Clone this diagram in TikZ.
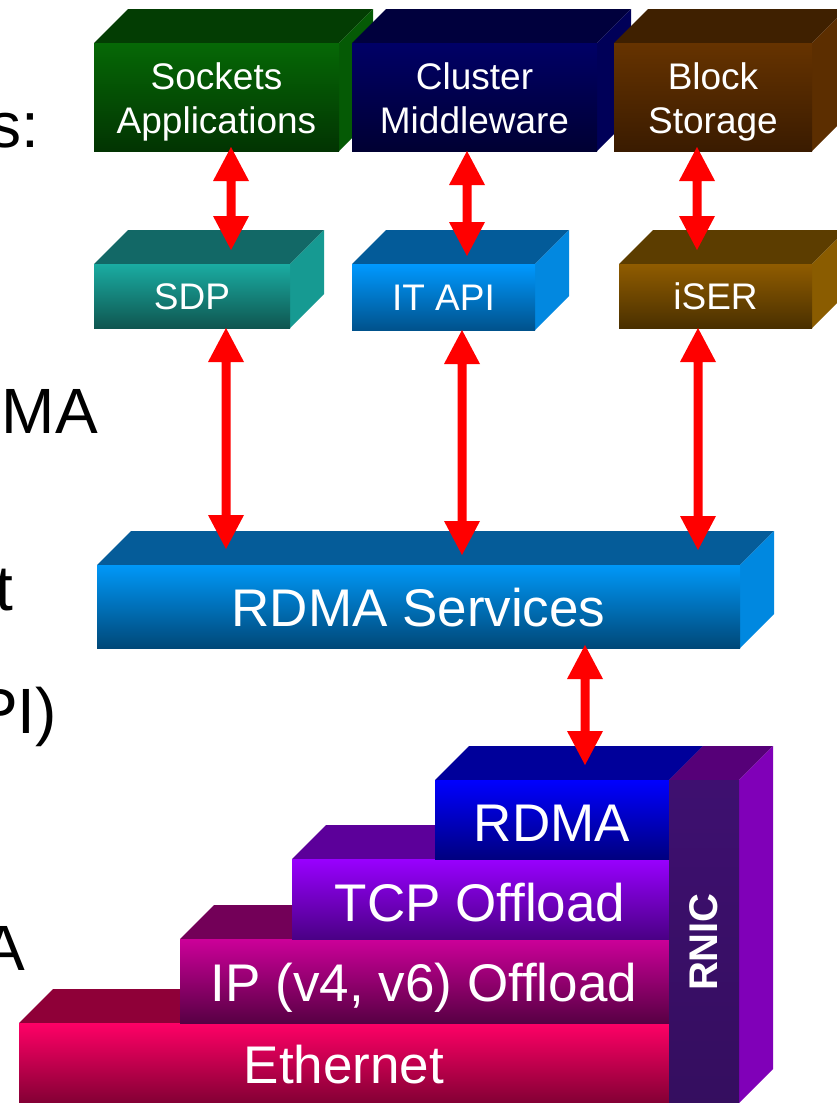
\documentclass[tikz,border=0pt]{standalone}
\usepackage{fontspec}
\setmainfont{Liberation Sans}
\usetikzlibrary{calc,fit}

% front face (top / bottom of gradient), top face, side face
\definecolor{sockA}{HTML}{066806}\definecolor{sockB}{HTML}{023402}
\definecolor{sockT}{HTML}{033D03}\definecolor{sockS}{HTML}{055A05}
\definecolor{clusA}{HTML}{000066}\definecolor{clusB}{HTML}{000033}
\definecolor{clusT}{HTML}{00003D}\definecolor{clusS}{HTML}{000058}
\definecolor{blkA}{HTML}{663300}\definecolor{blkB}{HTML}{3A1B00}
\definecolor{blkT}{HTML}{3F2000}\definecolor{blkS}{HTML}{5C2E00}
\definecolor{sdpA}{HTML}{1AACA2}\definecolor{sdpB}{HTML}{0F5650}
\definecolor{sdpT}{HTML}{126866}\definecolor{sdpS}{HTML}{169A92}
\definecolor{itA}{HTML}{0099FF}\definecolor{itB}{HTML}{00528C}
\definecolor{itT}{HTML}{035B99}\definecolor{itS}{HTML}{0288E0}
\definecolor{iserA}{HTML}{905C00}\definecolor{iserB}{HTML}{4A3000}
\definecolor{iserT}{HTML}{5C3D00}\definecolor{iserS}{HTML}{8A5C00}
\definecolor{rsA}{HTML}{0098F8}\definecolor{rsB}{HTML}{004878}
\definecolor{rsT}{HTML}{055C99}\definecolor{rsS}{HTML}{0088E0}
\definecolor{ethA}{HTML}{FF0066}\definecolor{ethB}{HTML}{780030}
\definecolor{ethT}{HTML}{8F0038}
\definecolor{ipA}{HTML}{CC0099}\definecolor{ipB}{HTML}{580044}
\definecolor{ipT}{HTML}{730058}
\definecolor{tcpA}{HTML}{9900FF}\definecolor{tcpB}{HTML}{4A0085}
\definecolor{tcpT}{HTML}{5C009A}
\definecolor{rdA}{HTML}{0000FF}\definecolor{rdB}{HTML}{000080}
\definecolor{rdT}{HTML}{00009A}
\definecolor{nicF}{HTML}{3E1070}\definecolor{nicT}{HTML}{560078}
\definecolor{nicS}{HTML}{8000B8}
\definecolor{arrowred}{HTML}{FF0000}

\tikzset{
  face/.style={inner sep=0pt, outer sep=0pt, draw=none},
  boxlabel/.style={text=white, anchor=base, inner sep=0pt,
    font=\fontsize{37}{44}\selectfont},
  biglabel/.style={text=white, anchor=base, inner sep=0pt,
    font=\fontsize{53}{60}\selectfont},
  cuttext/.style={text=black, anchor=base east, inner sep=0pt,
    font=\fontsize{64}{72}\selectfont},
}

% 3-D slab: name, x1, y1, x2, y2 of the front face, gradient colours,
% top face colour, side face colour
\newcommand\slab[9]{%
  \fill[#8] (#2,#3) -- (#2+34,#3-34) -- (#4+34,#3-34) -- (#4,#3) -- cycle;
  \fill[#9] (#4,#3) -- (#4+34,#3-34) -- (#4+34,#5-34) -- (#4,#5) -- cycle;
  \node[face, fit={(#2,#3) (#4,#5)}, top color=#6, bottom color=#7] (#1) {};
}

% thick two-headed vertical arrow between two points
\newcommand\bidir[2]{%
  \fill[arrowred] let \p1=#1, \p2=#2 in
    (\x1,\y1) -- (\x1+18pt,\y1-34pt) -- (\x1+4.5pt,\y1-34pt)
    -- (\x1+4.5pt,\y2+34pt) -- (\x1+18pt,\y2+34pt) -- (\x1,\y2)
    -- (\x1-18pt,\y2+34pt) -- (\x1-4.5pt,\y2+34pt)
    -- (\x1-4.5pt,\y1-34pt) -- (\x1-18pt,\y1-34pt) -- cycle;
}

\begin{document}
\begin{tikzpicture}[x=1pt,y=-1pt]
\useasboundingbox[fill=white] (0,0) rectangle (837,1103);

% text running in from the left edge
\node[cuttext] (c1) at (39,147) {s:};
\node[cuttext] (c2) at (98,433) {MA};
\node[cuttext] (c3) at (13,610) {t};
\node[cuttext] (c4) at (57,733) {PI)};
\node[cuttext] (c5) at (25,970) {A};

% upper layer
\slab{sock}{94}{43}{339}{151}{sockA}{sockB}{sockT}{sockS}
\slab{clus}{352}{43}{597}{151}{clusA}{clusB}{clusT}{clusS}
\slab{blk}{614}{43}{812}{151}{blkA}{blkB}{blkT}{blkS}
\node[boxlabel] (l1) at (216.5,89) {Sockets};
\node[boxlabel] (l2) at (216.5,133) {Applications};
\node[boxlabel] (l3) at (474.5,89) {Cluster};
\node[boxlabel] (l4) at (474.5,133) {Middleware};
\node[boxlabel] (l5) at (713,89) {Block};
\node[boxlabel] (l6) at (713,133) {Storage};

% protocol layer
\slab{sdp}{94}{264}{290}{328}{sdpA}{sdpB}{sdpT}{sdpS}
\slab{itapi}{352}{264}{535}{330}{itA}{itB}{itT}{itS}
\slab{iser}{619}{264}{812}{328}{iserA}{iserB}{iserT}{iserS}
\node[boxlabel] (l7) at (192,309) {SDP};
\node[boxlabel] (l8) at (443.5,310) {IT API};
\node[boxlabel] (l9) at (715.5,309) {iSER};

% RDMA services
\slab{rdmas}{97}{565}{740}{648}{rsA}{rsB}{rsT}{rsS}
\node[biglabel] (l10) at (418.5,626) {RDMA Services};

% RNIC stack
\slab{eth}{19}{1023}{669}{1110}{ethA}{ethB}{ethT}{ethT}
\slab{ip}{180}{939}{669}{1023}{ipA}{ipB}{ipT}{ipT}
\slab{tcp}{292}{859}{669}{939}{tcpA}{tcpB}{tcpT}{tcpT}
\slab{rdma}{435}{780}{669}{859}{rdA}{rdB}{rdT}{rdT}
\slab{rnic}{669}{780}{739}{1103}{nicF}{nicF!85!black}{nicT}{nicS}
\node[biglabel] (l11) at (552,841) {RDMA};
\node[biglabel] (l12) at (480,921) {TCP Offload};
\node[biglabel] (l13) at (424,1001) {IP (v4, v6) Offload};
\node[biglabel] (l14) at (344,1083) {Ethernet};
\node[text=white, inner sep=0pt, rotate=90,
  font=\bfseries\fontsize{40}{40}\selectfont] (l15) at (704,942) {RNIC};

% connectors
\bidir{($(sock.south)+(14.5,-4)$)}{($(sdp.north)+(39,-14)$)}
\bidir{($(clus.south)+(-7.5,0)$)}{($(itapi.north)+(23.5,-8)$)}
\bidir{($(blk.south)+(-16,-4)$)}{($(iser.north)+(-18.5,-14)$)}
\bidir{($(sdp.south)+(34,0)$)}{($(rdmas.north)+(-192.5,-16)$)}
\bidir{($(itapi.south)+(18.5,0)$)}{($(rdmas.north)+(43.5,-10)$)}
\bidir{($(iser.south)+(-17.5,0)$)}{($(rdmas.north)+(279.5,-15)$)}
\bidir{($(rdmas.south)+(166.5,-3)$)}{($(rdma.north)+(33,-15)$)}
\end{tikzpicture}
\end{document}
